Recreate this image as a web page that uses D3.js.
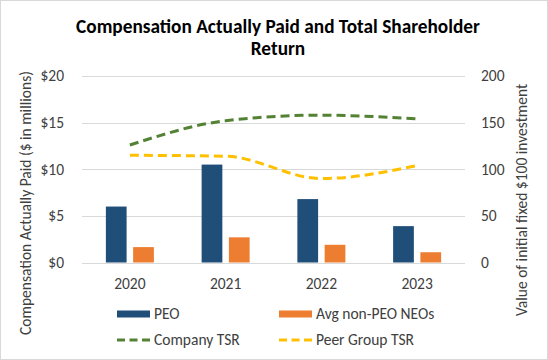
<!DOCTYPE html>
<html><head><meta charset="utf-8">
<script src="https://cdn.jsdelivr.net/npm/d3@7/dist/d3.min.js"></script>
<style>body{margin:0;background:#fff}svg{display:block}text{font-family:Carlito,Calibri,"Open Sans",sans-serif}</style>
</head><body>
<svg id="c" width="548" height="360"></svg>
<script>
const years = ["2020","2021","2022","2023"];
const peo = [6.0, 10.5, 6.8, 3.9];
const avgNeo = [1.65, 2.7, 1.9, 1.1];
const companyTSR = [126, 152, 158, 154];
const peerTSR = [115, 114, 90, 104];
const leftTicks = [0,5,10,15,20];
const rightTicks = [0,50,100,150,200];

const svg = d3.select("#c");
const W=548,H=360;
svg.append("rect").attr("x",0.5).attr("y",0.5).attr("width",W-1).attr("height",H-1).attr("fill","#fff").attr("stroke","#d9d9d9");

const x0=82,x1=465,yTop=76,yBot=262.5;
const x = d3.scaleBand().domain(years).range([x0,x1]);
const yL = d3.scaleLinear().domain([0,20]).range([yBot,yTop]);
const yR = d3.scaleLinear().domain([0,200]).range([yBot,yTop]);
const sub = d3.scaleBand().domain(["peo","neo"]).range([-24,24]).paddingInner(0.24);
const FS="15.5px";

// grid
svg.append("g").selectAll("line").data(leftTicks).join("line")
  .attr("x1",x0).attr("x2",x1).attr("y1",d=>Math.round(yL(d))+0.5).attr("y2",d=>Math.round(yL(d))+0.5)
  .attr("stroke","#d9d9d9").attr("stroke-width",1);

// bars
const series=[{k:"peo",v:peo,c:"#1f4e79"},{k:"neo",v:avgNeo,c:"#ed7d31"}];
series.forEach(s=>{
  svg.append("g").selectAll("rect").data(years).join("rect")
    .attr("x",d=>x(d)+x.bandwidth()/2+sub(s.k))
    .attr("width",sub.bandwidth())
    .attr("y",(d,i)=>yL(s.v[i]))
    .attr("height",(d,i)=>yBot-yL(s.v[i]))
    .attr("fill",s.c);
});

// lines
const line = d3.line().x((d,i)=>x(years[i])+x.bandwidth()/2).y(d=>yR(d)).curve(d3.curveMonotoneX);
[{v:companyTSR,c:"#548235"},{v:peerTSR,c:"#ffc000"}].forEach(s=>{
  svg.append("path").attr("d",line(s.v)).attr("fill","none").attr("stroke",s.c)
    .attr("stroke-width",3).attr("stroke-dasharray","9,5");
});

// axes labels
svg.append("g").selectAll("text").data(leftTicks).join("text")
  .attr("x",64).attr("y",d=>yL(d)).attr("dy","0.35em").attr("text-anchor","end")
  .attr("fill","#404040").attr("font-size",FS).text(d=>"$"+d);
svg.append("g").selectAll("text").data(rightTicks).join("text")
  .attr("x",481).attr("y",d=>yR(d)).attr("dy","0.35em").attr("text-anchor","start")
  .attr("fill","#404040").attr("font-size",FS).text(d=>d);
svg.append("g").selectAll("text").data(years).join("text")
  .attr("x",d=>x(d)+x.bandwidth()/2).attr("y",284).attr("dy","0.35em").attr("text-anchor","middle")
  .attr("fill","#404040").attr("font-size",FS).text(d=>d);

// axis titles
svg.append("text").attr("transform","translate(31,203) rotate(-90)").attr("text-anchor","middle")
  .attr("fill","#404040").attr("font-size",FS).text("Compensation Actually Paid ($ in millions)");
svg.append("text").attr("transform","translate(527,200) rotate(-90)").attr("text-anchor","middle")
  .attr("fill","#404040").attr("font-size",FS).text("Value of initial fixed $100 investment");

// title
const title=svg.append("text").attr("x",278).attr("text-anchor","middle").attr("font-weight","bold")
  .attr("font-size","19.3px").attr("fill","#000");
title.append("tspan").attr("x",278).attr("y",33).text("Compensation Actually Paid and Total Shareholder");
title.append("tspan").attr("x",278).attr("y",55).text("Return");

// legend
const leg=[
  {t:"PEO",c:"#1f4e79",type:"rect",x:117,y:314},
  {t:"Avg non-PEO NEOs",c:"#ed7d31",type:"rect",x:279,y:314},
  {t:"Company TSR",c:"#548235",type:"line",x:117,y:340},
  {t:"Peer Group TSR",c:"#ffc000",type:"line",x:279,y:340}];
leg.forEach(l=>{
  if(l.type==="rect") svg.append("rect").attr("x",l.x).attr("y",l.y-3.5).attr("width",33).attr("height",7).attr("fill",l.c);
  else svg.append("line").attr("x1",l.x).attr("x2",l.x+33).attr("y1",l.y).attr("y2",l.y).attr("stroke",l.c).attr("stroke-width",3).attr("stroke-dasharray","8,4.5");
  svg.append("text").attr("x",l.x+37).attr("y",l.y).attr("dy","0.35em").attr("fill","#404040").attr("font-size",FS).text(l.t);
});
</script>
</body></html>
